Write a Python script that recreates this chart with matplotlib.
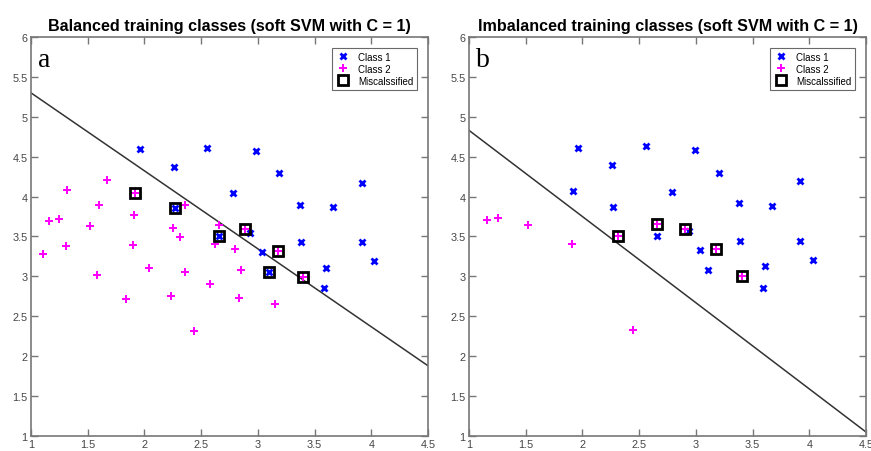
import numpy as np
import matplotlib.pyplot as plt

plt.rcParams['font.family'] = ['Liberation Sans', 'DejaVu Sans']

# balanced training set (panel a)
bal_c1_x = [1.96, 2.26, 2.55, 2.98, 2.78, 3.19, 3.37, 3.66, 3.92, 2.27, 2.66, 2.93, 3.04, 3.38, 3.92, 4.02, 3.10, 3.60, 3.58]
bal_c1_y = [4.60, 4.37, 4.61, 4.57, 4.04, 4.29, 3.90, 3.87, 4.17, 3.86, 3.50, 3.55, 3.31, 3.43, 3.43, 3.19, 3.06, 3.11, 2.85]
bal_c2_x = [1.67, 1.32, 1.92, 1.60, 2.36, 1.16, 1.25, 1.91, 1.52, 2.25, 2.31, 2.66, 2.62, 2.89, 2.80, 3.18, 1.31, 1.90,
            1.11, 2.04, 2.36, 1.58, 2.85, 2.58, 2.23, 1.84, 2.83, 3.15, 2.44, 3.40]
bal_c2_y = [4.21, 4.08, 4.05, 3.89, 3.90, 3.69, 3.72, 3.77, 3.63, 3.61, 3.49, 3.65, 3.40, 3.59, 3.34, 3.32, 3.38, 3.39,
            3.28, 3.10, 3.05, 3.02, 3.08, 2.90, 2.75, 2.72, 2.73, 2.66, 2.31, 2.99]
bal_mis_x = [1.92, 2.27, 2.66, 2.89, 3.18, 3.10, 3.40]
bal_mis_y = [4.05, 3.86, 3.50, 3.59, 3.32, 3.06, 2.99]
bal_line_x = [1.0, 4.5]
bal_line_y = [5.30, 1.88]

# imbalanced training set (panel b)
imb_c1_x = [1.96, 2.26, 2.56, 2.99, 1.92, 2.79, 3.20, 2.27, 3.38, 3.67, 3.92, 2.66, 2.94, 3.04, 3.39, 3.92, 4.03, 3.11, 3.61, 3.59]
imb_c1_y = [4.61, 4.39, 4.63, 4.58, 4.07, 4.06, 4.30, 3.87, 3.92, 3.88, 4.19, 3.51, 3.57, 3.33, 3.44, 3.44, 3.21, 3.08, 3.13, 2.86]
imb_c2_x = [1.16, 1.26, 1.52, 1.91, 2.31, 2.45, 2.66, 2.90, 3.18, 3.41]
imb_c2_y = [3.71, 3.73, 3.64, 3.40, 3.50, 2.33, 3.66, 3.60, 3.34, 3.00]
imb_mis_x = [2.31, 2.66, 2.90, 3.18, 3.41]
imb_mis_y = [3.50, 3.66, 3.60, 3.34, 3.00]
imb_line_x = [1.0, 4.5]
imb_line_y = [4.83, 1.05]

xticks = [1, 1.5, 2, 2.5, 3, 3.5, 4, 4.5]
yticks = [1, 1.5, 2, 2.5, 3, 3.5, 4, 4.5, 5, 5.5, 6]
tick_labels_x = ["1", "1.5", "2", "2.5", "3", "3.5", "4", "4.5"]
tick_labels_y = ["1", "1.5", "2", "2.5", "3", "3.5", "4", "4.5", "5", "5.5", "6"]

panels = [
    ("Balanced training classes (soft SVM with C = 1)", "a",
     bal_c1_x, bal_c1_y, bal_c2_x, bal_c2_y, bal_mis_x, bal_mis_y, bal_line_x, bal_line_y),
    ("Imbalanced training classes (soft SVM with C = 1)", "b",
     imb_c1_x, imb_c1_y, imb_c2_x, imb_c2_y, imb_mis_x, imb_mis_y, imb_line_x, imb_line_y),
]

fig = plt.figure(figsize=(8.71, 4.52), dpi=100)
lefts = [31 / 871, 469 / 871]

for left, (title, letter, c1x, c1y, c2x, c2y, mx, my, lx, ly) in zip(lefts, panels):
    ax = fig.add_axes([left, 15 / 452, 397 / 871, 399 / 452])
    ax.plot(lx, ly, color="#333333", lw=1.1, zorder=1)
    ax.plot(c1x, c1y, ls="none", marker="x", ms=4, mew=2, color="#0000ff", label="Class 1", zorder=3)
    ax.plot(c2x, c2y, ls="none", marker="P", ms=6, mew=0, color="#ff00ff", label="Class 2", zorder=3)
    ax.plot(mx, my, ls="none", marker="s", ms=7.5, mew=2, mfc="none", mec="black", label="Miscalssified", zorder=4)
    ax.set_xlim(1, 4.5)
    ax.set_ylim(1, 6)
    ax.set_xticks(xticks)
    ax.set_xticklabels(tick_labels_x)
    ax.set_yticks(yticks)
    ax.set_yticklabels(tick_labels_y)
    ax.tick_params(direction="in", length=5, width=1, colors="#777777", labelcolor="#444444",
                   labelsize=7.8, top=True, right=True, pad=2.5)
    for sp in ax.spines.values():
        sp.set_color("#777777")
        sp.set_linewidth(1.2)
    ax.set_title(title, fontsize=11.6, fontweight="bold", pad=5)
    ax.text(0.018, 0.975, letter, transform=ax.transAxes, fontsize=20, va="top", ha="left",
            family=["Liberation Serif", "DejaVu Serif"])
    leg = ax.legend(loc="upper right", fontsize=7, frameon=True, fancybox=False,
                    borderpad=0.4, labelspacing=0.2, handletextpad=0.8, handlelength=1.5,
                    bbox_to_anchor=(0.985, 0.985))
    leg.get_frame().set_edgecolor("#444444")
    leg.get_frame().set_linewidth(0.8)

fig.savefig("out.png", dpi=100)
